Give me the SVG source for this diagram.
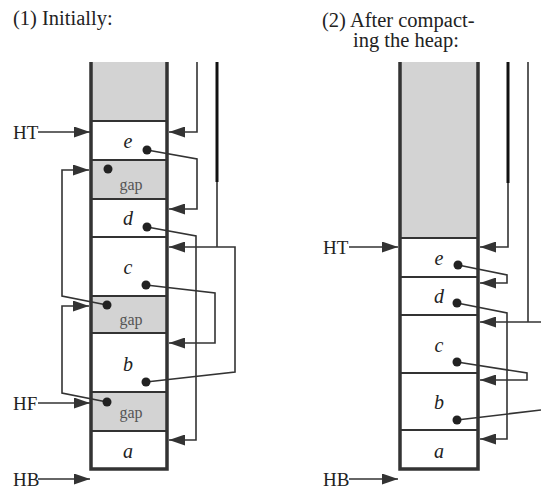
<svg xmlns="http://www.w3.org/2000/svg" width="541" height="491" viewBox="0 0 541 491">
<defs>
<style>
.t{font-family:"Liberation Serif","Times New Roman",serif;fill:#222}
.title{font-size:20.5px}
.ptr{font-size:19px}
.lbl{font-size:20px;font-style:italic;text-anchor:middle}
.gap{font-size:16px;text-anchor:middle;fill:#555}
.free{fill:#d3d3d3}
.cell{fill:#fff}
.div{stroke:#333;stroke-width:2;fill:none}
.wall{stroke:#333;stroke-width:3.5;fill:none}
.c{stroke:#333;stroke-width:1.6;fill:none}
.thick{stroke:#111;stroke-width:3;fill:none}
.dot{fill:#222}
</style>
<marker id="ah" markerWidth="17" markerHeight="11" refX="16" refY="5.5" orient="auto" markerUnits="userSpaceOnUse">
<path d="M0,0 L16,5.5 L0,11 z" fill="#333"/>
</marker>
</defs>
<rect width="541" height="491" fill="#fff"/>

<text class="t title" x="13" y="25">(1) Initially:</text>
<text class="t title" x="322" y="27">(2) After compact-</text>
<text class="t title" x="353" y="47">ing the heap:</text>

<!-- left heap -->
<g id="L-free"><rect class="free" x="91" y="62" width="76" height="59"/></g>
<g id="L-e"><rect class="cell" x="91" y="121" width="76" height="39"/><text class="t lbl" x="128" y="148">e</text></g>
<g id="L-gap1"><rect class="free" x="91" y="160" width="76" height="39"/><text class="t gap" x="131" y="190">gap</text></g>
<g id="L-d"><rect class="cell" x="91" y="199" width="76" height="38"/><text class="t lbl" x="128" y="225">d</text></g>
<g id="L-c"><rect class="cell" x="91" y="237" width="76" height="59"/><text class="t lbl" x="128" y="274">c</text></g>
<g id="L-gap2"><rect class="free" x="91" y="296" width="76" height="37"/><text class="t gap" x="131" y="325">gap</text></g>
<g id="L-b"><rect class="cell" x="91" y="333" width="76" height="59"/><text class="t lbl" x="128" y="371">b</text></g>
<g id="L-gap3"><rect class="free" x="91" y="392" width="76" height="39"/><text class="t gap" x="131" y="418">gap</text></g>
<g id="L-a"><rect class="cell" x="91" y="431" width="76" height="38"/><text class="t lbl" x="128" y="458">a</text></g>
<g id="L-frame">
<path class="div" d="M91,121H167M91,160H167M91,199H167M91,237H167M91,296H167M91,333H167M91,392H167M91,431H167"/>
<path class="wall" d="M91,62V469H167V62"/>
</g>

<!-- right heap -->
<g id="R-free"><rect class="free" x="400" y="62" width="78" height="176"/></g>
<g id="R-e"><rect class="cell" x="400" y="238" width="78" height="39"/><text class="t lbl" x="439" y="265">e</text></g>
<g id="R-d"><rect class="cell" x="400" y="277" width="78" height="38"/><text class="t lbl" x="439" y="303">d</text></g>
<g id="R-c"><rect class="cell" x="400" y="315" width="78" height="58"/><text class="t lbl" x="439" y="352">c</text></g>
<g id="R-b"><rect class="cell" x="400" y="373" width="78" height="57"/><text class="t lbl" x="439" y="409">b</text></g>
<g id="R-a"><rect class="cell" x="400" y="430" width="78" height="39"/><text class="t lbl" x="439" y="458">a</text></g>
<g id="R-frame">
<path class="div" d="M400,238H478M400,277H478M400,315H478M400,373H478M400,430H478"/>
<path class="wall" d="M400,62V469H478V62"/>
</g>

<!-- pointer labels -->
<g id="L-HT"><text class="t ptr" x="13" y="139">HT</text></g>
<g id="L-HF"><text class="t ptr" x="13" y="410">HF</text></g>
<g id="L-HB"><text class="t ptr" x="13" y="486">HB</text></g>
<g id="R-HT"><text class="t ptr" x="323" y="254">HT</text></g>
<g id="R-HB"><text class="t ptr" x="323" y="486">HB</text></g>

<g id="connectors">
<!-- left -->
<path class="c" d="M38,132H90" marker-end="url(#ah)"/>
<path class="c" d="M38,403H90" marker-end="url(#ah)"/>
<path class="c" d="M38,479H90" marker-end="url(#ah)"/>
<path class="c" d="M197,62V132H169" marker-end="url(#ah)"/>
<path class="thick" d="M217,62V182"/>
<path class="c" d="M217,182V247"/>
<path class="c" d="M146,382L235,372V247H169" marker-end="url(#ah)"/>
<path class="c" d="M147,150L197,159V209H169" marker-end="url(#ah)"/>
<path class="c" d="M147,227L196,236V440H169" marker-end="url(#ah)"/>
<path class="c" d="M146,285L215,293V343H169" marker-end="url(#ah)"/>
<path class="c" d="M107,305L62,296V170H89" marker-end="url(#ah)"/>
<path class="c" d="M107,402L62,393V306H89" marker-end="url(#ah)"/>
<!-- right -->
<path class="c" d="M349,247H398" marker-end="url(#ah)"/>
<path class="c" d="M349,479H398" marker-end="url(#ah)"/>
<path class="thick" d="M508,62V183"/>
<path class="c" d="M508,183V247H480" marker-end="url(#ah)"/>
<path class="c" d="M528,62V322" stroke="#555"/>
<path class="c" d="M541,322H480" marker-end="url(#ah)"/>
<path class="c" d="M458,265L507,275V283H480" marker-end="url(#ah)"/>
<path class="c" d="M457,303L507,313V439H480" marker-end="url(#ah)"/>
<path class="c" d="M457,362L527,373V380H480" marker-end="url(#ah)"/>
<path class="c" d="M457,420L541,410"/>
</g>

<g id="dots">
<circle class="dot" cx="147" cy="150" r="4.5"/>
<circle class="dot" cx="108" cy="169" r="4.5"/>
<circle class="dot" cx="147" cy="227" r="4.5"/>
<circle class="dot" cx="146" cy="285" r="4.5"/>
<circle class="dot" cx="107" cy="305" r="4.5"/>
<circle class="dot" cx="146" cy="382" r="4.5"/>
<circle class="dot" cx="107" cy="402" r="4.5"/>
<circle class="dot" cx="458" cy="265" r="4.5"/>
<circle class="dot" cx="457" cy="303" r="4.5"/>
<circle class="dot" cx="457" cy="362" r="4.5"/>
<circle class="dot" cx="457" cy="420" r="4.5"/>
</g>
</svg>
